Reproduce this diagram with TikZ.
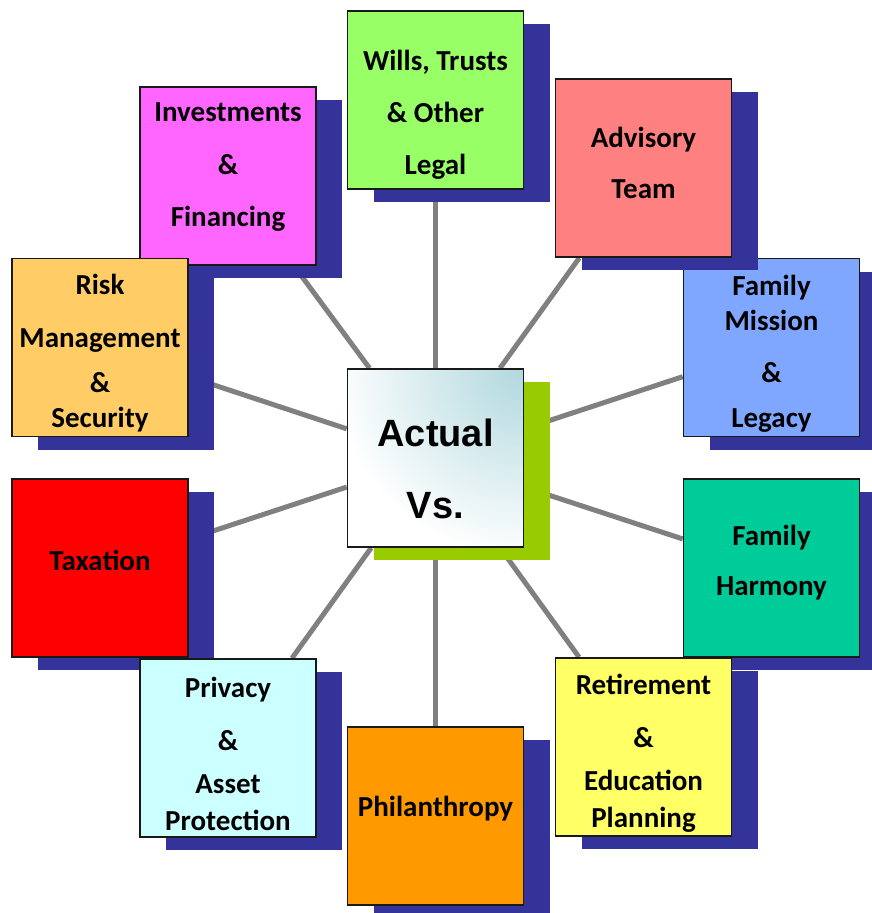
\documentclass[tikz,border=0pt]{standalone}
\usepackage{fontspec}
\setmainfont{Carlito}
\newfontfamily\hubfont{Liberation Sans}
\usetikzlibrary{calc, shadows, backgrounds}

\definecolor{shadowblue}{HTML}{333399}
\definecolor{hubgreen}{HTML}{99CC00}
\definecolor{hubteal}{HTML}{B0D8DE}
\definecolor{spokegray}{HTML}{808080}
\definecolor{willsgreen}{HTML}{99FF66}
\definecolor{advisorypink}{HTML}{FF8080}
\definecolor{missionblue}{HTML}{7FA7FF}
\definecolor{harmonyteal}{HTML}{00CC99}
\definecolor{retireyellow}{HTML}{FFFF66}
\definecolor{philorange}{HTML}{FF9900}
\definecolor{privacycyan}{HTML}{CCFFFF}
\definecolor{taxred}{HTML}{FF0000}
\definecolor{riskorange}{HTML}{FFCC66}
\definecolor{investmagenta}{HTML}{FF66FF}

\begin{document}
\begin{tikzpicture}[x=1pt, y=-1pt,
	card/.style={draw=black!90, line width=1.6pt, minimum width=176pt, minimum height=178pt, inner sep=0pt,
		drop shadow={shadow xshift=26pt, shadow yshift=-13pt, fill=shadowblue, opacity=1}},
	cardtext/.style={font=\fontsize{29}{52}\selectfont\bfseries, align=center},
	hub/.style={card, fill=white, drop shadow={shadow xshift=26pt, shadow yshift=-13pt, fill=hubgreen, opacity=1},
		path picture={\shade[inner color=hubteal, outer color=white] (path picture bounding box.north east) circle (190pt);}},
	hubtext/.style={font=\hubfont\fontsize{38}{72}\selectfont\bfseries, align=center},
	spoke/.style={draw=spokegray, line width=5pt}]
	\useasboundingbox (0,0) rectangle (872,913);

	% boxes, in stacking order
	\node[card, fill=missionblue] (mission) at (771.5,347.5) {};
	\node[cardtext] (mission-t) at ($(mission)+(0,6.5)$) {Family\\[-17pt]Mission\\\&\\[-7pt]Legacy};
	\node[card, fill=advisorypink] (advisory) at (643.5,168) {};
	\node[cardtext] (advisory-t) at ($(advisory)+(0,-5.5)$) {Advisory\\[-1pt]Team};
	\node[card, fill=harmonyteal] (harmony) at (771.5,568) {};
	\node[cardtext] (harmony-t) at ($(harmony)+(0,-5)$) {Family\\[-2pt]Harmony};
	\node[card, fill=retireyellow] (retire) at (643.5,747) {};
	\node[cardtext] (retire-t) at ($(retire)+(0,6.5)$) {Retirement\\[1pt]\&\\[-9pt]Education\\[-15pt]Planning};
	\node[card, fill=investmagenta] (invest) at (228,176) {};
	\node[cardtext] (invest-t) at ($(invest)+(0,-8.5)$) {Investments\\[1pt]\&\\Financing};
	\node[card, fill=riskorange] (risk) at (100,347.5) {};
	\node[cardtext] (risk-t) at ($(risk)+(0,6)$) {Risk\\[1pt]Management\\[-7pt]\&\\[-17pt]Security};
	\node[card, fill=taxred] (tax) at (100,568) {};
	\node[cardtext] (tax-t) at ($(tax)+(0,-8)$) {Taxation};
	\node[card, fill=privacycyan] (privacy) at (228,748) {};
	\node[cardtext] (privacy-t) at ($(privacy)+(0,5.5)$) {Privacy\\[1pt]\&\\[-9pt]Asset\\[-15pt]Protection};
	\node[card, fill=willsgreen] (wills) at (435.5,100) {};
	\node[cardtext] (wills-t) at ($(wills)+(0,15)$) {Wills, Trusts\\\& Other\\Legal};
	\node[card, fill=philorange] (phil) at (435.5,816) {};
	\node[cardtext] (phil-t) at ($(phil)+(0,-7)$) {Philanthropy};

	% centre
	\node[hub] (hub) at (435.5,458) {};
	\node[hubtext] (hub-t) at ($(hub)+(0,11)$) {Actual\\Vs.};

	% spokes behind everything
	\begin{pgfonlayer}{background}
		\foreach \n in {wills, advisory, mission, harmony, retire, phil, privacy, tax, risk, invest}
			\draw[spoke] (hub) -- (\n);
	\end{pgfonlayer}
\end{tikzpicture}
\end{document}
